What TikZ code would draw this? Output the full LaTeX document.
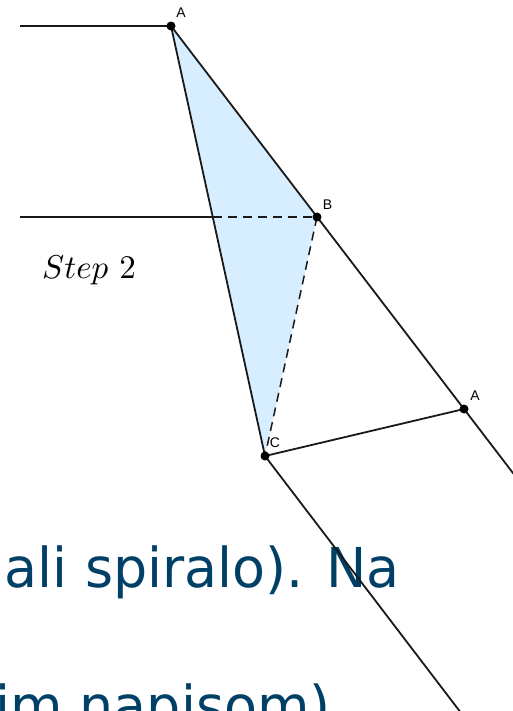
\documentclass[tikz,border=0pt]{standalone}
\usepackage{fontspec}
\newfontfamily\bigfont[FakeStretch=0.98]{DejaVu Sans}
\newfontfamily\lblfont{Liberation Sans}
\definecolor{triblue}{RGB}{214,238,255}
\definecolor{txtblue}{RGB}{0,63,102}
\definecolor{geogray}{RGB}{25,25,25}
\tikzset{
  geo/.style={draw=geogray, line width=1.8pt},
  geodash/.style={geo, line width=1.5pt, dash pattern=on 9pt off 6pt},
  ptdot/.style={circle, fill=black, inner sep=0pt, minimum size=9pt},
  ptlabel/.style={font=\lblfont\fontsize{14}{16}\selectfont, inner sep=0pt, anchor=center},
  bigtext/.style={font=\bigfont\fontsize{55}{66}\selectfont, text=txtblue, inner sep=0pt}
}
\begin{document}
\begin{tikzpicture}[x=1pt,y=-1pt]
\useasboundingbox (0,0) rectangle (513,711);
\clip (0,0) rectangle (513,711);
\coordinate (A) at (171,26);
\coordinate (B) at (317,217);
\coordinate (C) at (265,456);
\coordinate (A2) at (464,409);
\coordinate (L1) at (20,26);
\coordinate (L2) at (20,217);
\coordinate (X) at (212.8,217);
\coordinate (E1) at (530,495.3);
\coordinate (E2) at (470,724.7);
\fill[triblue] (A) -- (B) -- (C) -- cycle;
\node[bigtext, anchor=base east] (t1) at (400,587) {(dali spiralo). Na};
\node[bigtext, anchor=base east] (t2) at (331,725) {im napisom)};
\node[scale=3.3, inner sep=0pt, anchor=base] (step) at (89,278) {$Step\ 2$};
\draw[geo] (L1) -- (A);
\draw[geo] (L2) -- (X);
\draw[geodash] (X) -- (B);
\draw[geo] (A) -- (E1);
\draw[geo] (A) -- (C);
\draw[geodash] (B) -- (C);
\draw[geo] (C) -- (A2);
\draw[geo] (C) -- (E2);
\node[ptdot] (dA) at (A) {};
\node[ptdot] (dB) at (B) {};
\node[ptdot] (dC) at (C) {};
\node[ptdot] (dA2) at (A2) {};
\node[ptlabel] (lA) at (181,13) {A};
\node[ptlabel] (lB) at (327.5,205) {B};
\node[ptlabel] (lC) at (275,443) {C};
\node[ptlabel] (lA2) at (475,396) {A};
\end{tikzpicture}
\end{document}
